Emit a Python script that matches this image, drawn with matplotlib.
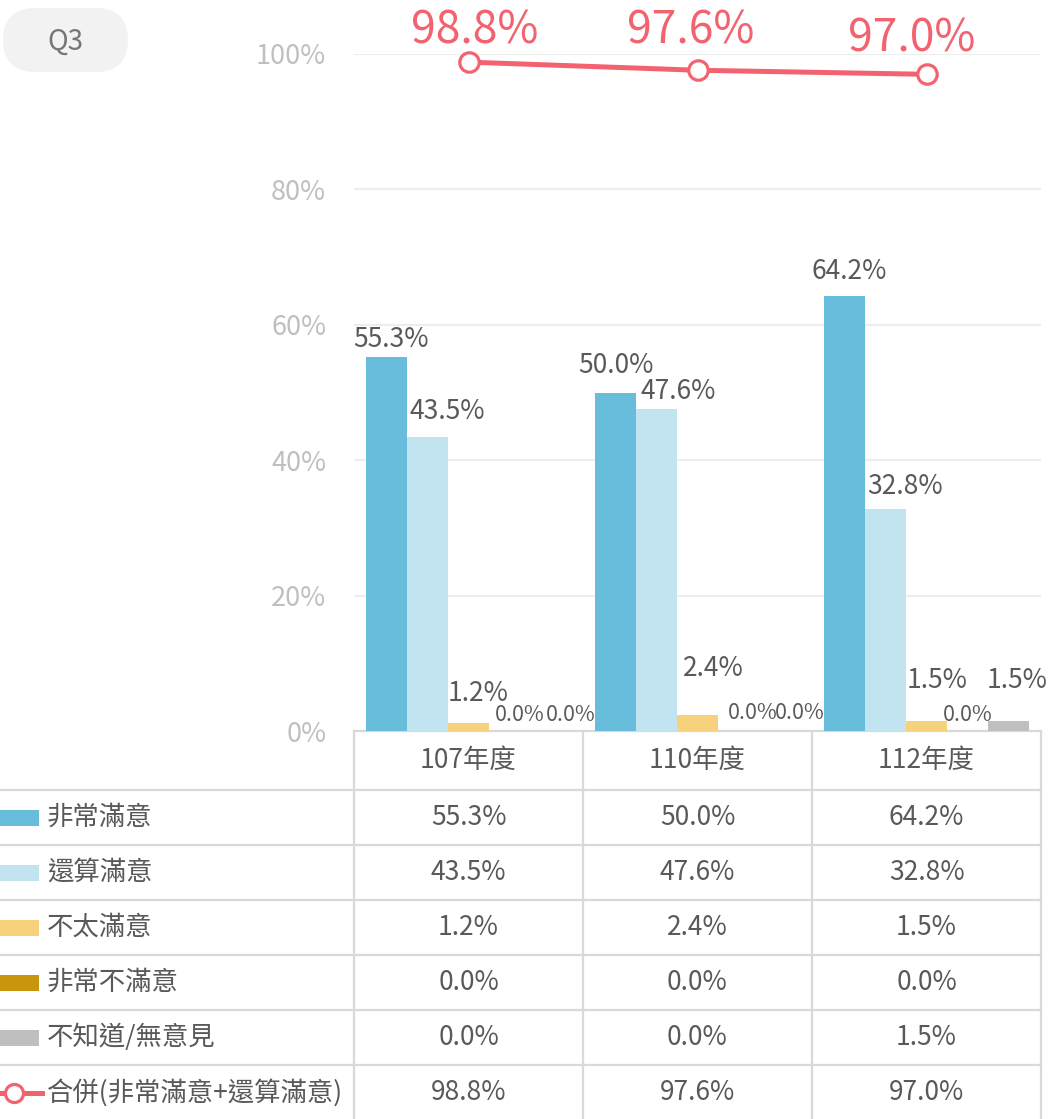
import matplotlib
matplotlib.use('Agg')
import matplotlib.pyplot as plt
from matplotlib.patches import FancyBboxPatch, Rectangle
from matplotlib.lines import Line2D
import matplotlib.transforms as mtransforms
import numpy as np

plt.rcParams['font.family'] = ['Noto Sans CJK TC', 'DejaVu Sans']

# ---------------- data ----------------
categories = ['107年度', '110年度', '112年度']
series_names = ['非常滿意', '還算滿意', '不太滿意', '非常不滿意', '不知道/無意見']
very_satisfied = [55.3, 50.0, 64.2]
fairly_satisfied = [43.5, 47.6, 32.8]
not_very_satisfied = [1.2, 2.4, 1.5]
very_unsatisfied = [0.0, 0.0, 0.0]
no_opinion = [0.0, 0.0, 1.5]
combined_name = '合併(非常滿意+還算滿意)'
combined = [98.8, 97.6, 97.0]
y_ticks = [0, 20, 40, 60, 80, 100]
badge_text = 'Q3'

series_values = [very_satisfied, fairly_satisfied, not_very_satisfied,
                 very_unsatisfied, no_opinion]

# ---------------- style ----------------
colors = ['#69BDDC', '#C2E4F0', '#F5D27B', '#C9950C', '#BFBFBF']
red = '#F2636F'
txt = '#595959'
grid_c = '#EDEDED'
table_c = '#D9D9D9'

W, H = 1056, 1119
fig = plt.figure(figsize=(W / 100, H / 100), dpi=100)

# overlay axes in pixel coordinates (for table and badge)
ov = fig.add_axes([0, 0, 1, 1], zorder=0)
ov.set_xlim(0, W)
ov.set_ylim(H, 0)
ov.axis('off')

ax = fig.add_axes([354 / W, 1 - 731 / H, (1041 - 354) / W, (731 - 54) / H], zorder=1)
ax.patch.set_alpha(0)
ax.set_xlim(-0.5, len(categories) - 0.5)
ax.set_ylim(0, 100)
for sp in ax.spines.values():
    sp.set_visible(False)
ax.set_xticks([])
ax.set_yticks(y_ticks)
ax.set_yticklabels([f'{t}%' for t in y_ticks], color='#BFBFBF', fontsize=19.5)
ax.tick_params(axis='y', length=0, pad=20)
for t in y_ticks[1:]:
    ax.axhline(t, color=grid_c, lw=1.5, zorder=0)

x = np.arange(len(categories))
bw = 41 / 229
n = len(series_values)
label_offsets = [
    [(5, 17), (0, 27), (5, 25)],
    [(20, 25), (22, 17), (19, 22)],
    [(10, 29), (16, 46), (11, 40)],
    [(10, 16), (14, 18), (0, 16)],
    [(20, 16), (20, 18), (9, 40)],
]
for j, (vals, c) in enumerate(zip(series_values, colors)):
    xs = x + (j - (n - 1) / 2) * bw
    ax.bar(xs, vals, width=bw, color=c, zorder=2)
    for i, (xx, v) in enumerate(zip(xs, vals)):
        dx, dy = label_offsets[j][i]
        ax.annotate(f'{v:.1f}%', xy=(xx, v), xytext=(dx, dy),
                    textcoords='offset pixels', ha='center', va='center',
                    fontsize=19 if v > 0 else 15.5, color=txt, zorder=5,
                    annotation_clip=False)

ax.plot(x, combined, color=red, lw=3.6, marker='o', markersize=14,
        markerfacecolor='white', markeredgecolor=red, markeredgewidth=2.3,
        zorder=4, clip_on=False)
red_offsets = [(6, 32), (-7, 40), (-15, 36)]
for i, v in enumerate(combined):
    dx, dy = red_offsets[i]
    ax.annotate(f'{v:.1f}%', xy=(x[i], v), xytext=(dx, dy),
                textcoords='offset pixels', ha='center', va='center',
                fontsize=32, color=red, zorder=5, annotation_clip=False)

# ---------------- badge ----------------
ov.add_patch(FancyBboxPatch((3, 8), 125, 64,
                            boxstyle='round,pad=0,rounding_size=32',
                            facecolor='#F2F2F2', edgecolor='none'))
ov.text(65, 42, badge_text, ha='center', va='center', fontsize=20, color='#767676')

# ---------------- table ----------------
tr = mtransforms.blended_transform_factory(ax.transData, ov.transData)
lw = 1.6
top_y, head_bot, row_h = 731, 790, 55
row_labels = series_names + [combined_name]
row_values = series_values + [combined]
n_rows = len(row_labels)
# vertical lines
for b in np.arange(len(categories) + 1) - 0.5:
    ov.add_line(Line2D([b, b], [top_y, H], transform=tr, color=table_c, lw=lw))
# header top line
ov.add_line(Line2D([-0.5, len(categories) - 0.5], [top_y, top_y], transform=tr,
                   color=table_c, lw=lw))
# row lines from left edge to right border
right_px = ax.transData.transform((len(categories) - 0.5, 0))[0]
for r in range(n_rows):
    yy = head_bot + row_h * r
    ov.add_line(Line2D([0, right_px], [yy, yy], color=table_c, lw=lw))

for i, cat in enumerate(categories):
    ov.text(i, (top_y + head_bot) / 2, cat, transform=tr, ha='center', va='center',
            fontsize=19, color=txt)

for r, (lab, vals) in enumerate(zip(row_labels, row_values)):
    yc = head_bot + row_h * (r + 0.5)
    for i, v in enumerate(vals):
        ov.text(i, yc, f'{v:.1f}%', transform=tr, ha='center', va='center',
                fontsize=19, color=txt)
    if r < len(series_names):
        ov.add_patch(Rectangle((0, yc - 8), 39, 16, facecolor=colors[r], edgecolor='none'))
    else:
        ov.add_line(Line2D([0, 42], [yc, yc], color=red, lw=3.6))
        ov.add_line(Line2D([14], [yc], marker='o', markersize=13, color=red,
                           markerfacecolor='white', markeredgewidth=2.3))
    ov.text(47, yc, lab, ha='left', va='center', fontsize=19, color=txt)

fig.savefig('out.png', dpi=100)
